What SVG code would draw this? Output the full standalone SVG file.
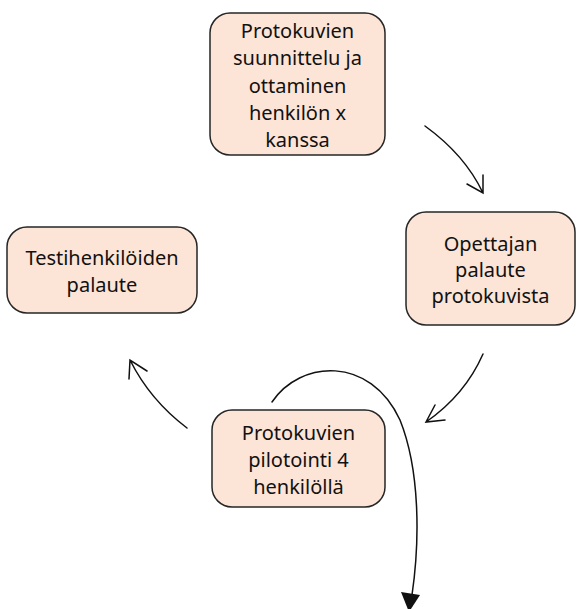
<svg xmlns="http://www.w3.org/2000/svg" width="577" height="609" viewBox="0 0 577 609">
<style>
.box{fill:#FCE4D6;stroke:#262626;stroke-width:1.5}
.t{font-family:"Noto Sans","Open Sans",sans-serif;font-size:20px;fill:#111;text-anchor:middle}
.c{fill:none;stroke:#111;stroke-width:1.5;stroke-linecap:round}
</style>
<rect width="577" height="609" fill="#fff"/>
<g id="n1">
<rect class="box" x="210" y="13" width="175" height="142" rx="20"/>
<text class="t" x="297.5" y="38">Protokuvien</text>
<text class="t" x="297.5" y="65">suunnittelu ja</text>
<text class="t" x="297.5" y="93">ottaminen</text>
<text class="t" x="297.5" y="120">henkilön x</text>
<text class="t" x="297.5" y="147">kanssa</text>
</g>
<g id="n2">
<rect class="box" x="406" y="212" width="169" height="113" rx="20"/>
<text class="t" x="490.5" y="251">Opettajan</text>
<text class="t" x="490.5" y="277">palaute</text>
<text class="t" x="490.5" y="303">protokuvista</text>
</g>
<g id="n3">
<rect class="box" x="7" y="227" width="190" height="86" rx="20"/>
<text class="t" x="102" y="265">Testihenkilöiden</text>
<text class="t" x="102" y="292">palaute</text>
</g>
<g id="n4">
<rect class="box" x="212" y="410" width="173" height="97" rx="20"/>
<text class="t" x="298.5" y="440">Protokuvien</text>
<text class="t" x="298.5" y="467">pilotointi 4</text>
<text class="t" x="298.5" y="494">henkilöllä</text>
</g>
<g id="connectors">
<path class="c" d="M425 126 Q465 155 483 193 M483 175 L483 193 L467 184"/>
<path class="c" d="M483 354 Q465 395 426 422 M435 405 L426 422 L445 420"/>
<path class="c" d="M187 428 Q150 400 130 360 M129 379 L130 360 L147 371"/>
<path class="c" d="M272 402 C300 360 370 355 400 420 C420 470 420 540 412 595"/>
<path d="M401 592 L420 595 L409 612 Z" fill="#111"/>
</g>
</svg>
